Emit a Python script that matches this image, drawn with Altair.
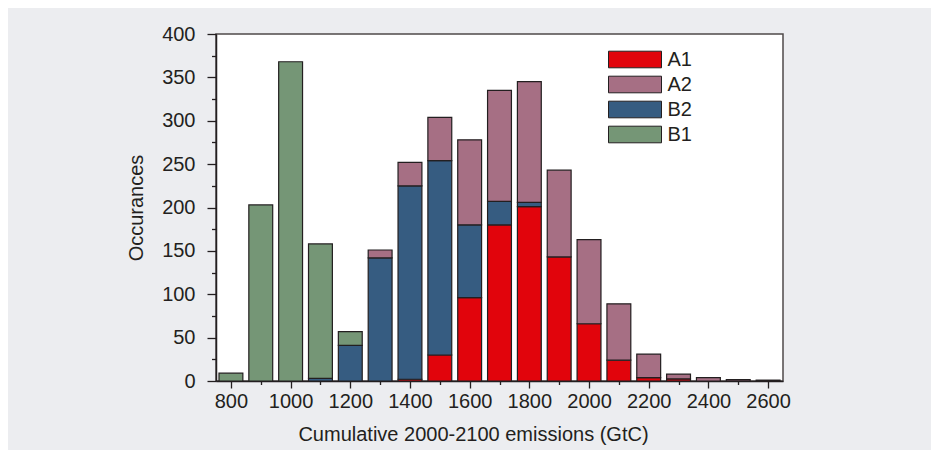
import altair as alt
import pandas as pd

# Bin centres (GtC) and occurrences per scenario family
centers = [800, 900, 1000, 1100, 1200, 1300, 1400, 1500, 1600, 1700,
           1800, 1900, 2000, 2100, 2200, 2300, 2400, 2500, 2600]
a1 = [0, 0, 0, 0, 0, 0, 2, 30, 96, 180, 201, 143, 66, 24, 4, 2.5, 0, 0, 0]
b2 = [0, 0, 0, 3, 41, 142, 223, 224, 84, 27, 5, 0, 0, 0, 0, 0, 0, 0, 0]
a2 = [0, 0, 0, 0, 0, 9, 27, 50, 98, 128, 139, 100, 97, 65, 27, 5.5, 4, 1.5, 1]
b1 = [9, 203, 368, 155, 16, 0, 0, 0, 0, 0, 0, 0, 0, 0, 0, 0, 0, 0, 0]

series_names = ["A1", "A2", "B2", "B1"]
series_colors = ["#e1040c", "#a66f84", "#365c81", "#759676"]
stack_order = {"A1": 0, "B2": 1, "A2": 2, "B1": 3}
x_ticks = list(range(800, 2700, 100))
y_ticks = list(range(0, 425, 25))

rows = []
for name, vals in zip(["A1", "B2", "A2", "B1"], [a1, b2, a2, b1]):
    for c, v in zip(centers, vals):
        if v > 0:
            rows.append({"center": c, "count": v, "series": name,
                         "ord": stack_order[name]})
df = pd.DataFrame(rows)

ink = "#231f20"

chart = alt.Chart(df).transform_stack(
    stack="count", as_=["y0", "y1"], groupby=["center"],
    sort=[alt.SortField("ord", order="ascending")]
).transform_calculate(
    lo="datum.center - 40", hi="datum.center + 40"
).mark_rect(stroke=ink, strokeWidth=1.2).encode(
    x=alt.X("lo:Q", scale=alt.Scale(domain=[750, 2650], nice=False, zero=False),
            axis=alt.Axis(values=x_ticks,
                          labelExpr="datum.value % 200 === 0 ? datum.label : ''",
                          format="d",
                          title="Cumulative 2000-2100 emissions (GtC)",
                          tickSize={"condition": {"test": "datum.value % 200 === 0", "value": 7}, "value": 3.5},
                          labelPadding=3,
                          titleX=257, titleY=59, titleBaseline="alphabetic",
                          titleAlign="center", titleAnchor="start")),
    x2="hi:Q",
    y=alt.Y("y0:Q",
            scale=alt.Scale(domain=[0, 400], nice=False),
            axis=alt.Axis(values=y_ticks,
                          labelExpr="datum.value % 50 === 0 ? datum.label : ''",
                          title="Occurances",
                          tickSize={"condition": {"test": "datum.value % 50 === 0", "value": 9}, "value": 4.5},
                          labelPadding=12,
                          titleX=-74, titleY=173.5, titleBaseline="alphabetic",
                          titleAlign="center", titleAnchor="start")),
    y2="y1:Q",
    color=alt.Color("series:N",
                    scale=alt.Scale(domain=series_names, range=series_colors),
                    legend=alt.Legend(title=None, orient="none",
                                      legendX=408.5, legendY=15,
                                      symbolType="M-2.65,-0.83L2.65,-0.83L2.65,0.83L-2.65,0.83Z",
                                      symbolSize=400,
                                      symbolStrokeColor=ink,
                                      symbolStrokeWidth=1,
                                      symbolOpacity=1,
                                      labelFontSize=20,
                                      labelColor=ink,
                                      labelFont="Liberation Sans",
                                      labelOffset=22,
                                      rowPadding=4,
                                      padding=0)),
).properties(
    width=567, height=347,
    autosize=alt.AutoSizeParams(type="none"),
    padding={"left": 208, "top": 26, "right": 148, "bottom": 69},
    background="#ecedf0",
).configure_view(
    fill="white", stroke="#4f4a4a", strokeWidth=1.5
).configure_axis(
    domainColor=ink, domainWidth=1.5, tickColor=ink, tickWidth=1.3,
    labelFont="Liberation Sans", labelFontSize=20, labelColor=ink,
    titleFont="Liberation Sans", titleFontSize=20, titleColor=ink,
    titleFontWeight="normal", grid=False,
)

chart.save("out.html", embed_options={"renderer": "svg", "actions": False})
